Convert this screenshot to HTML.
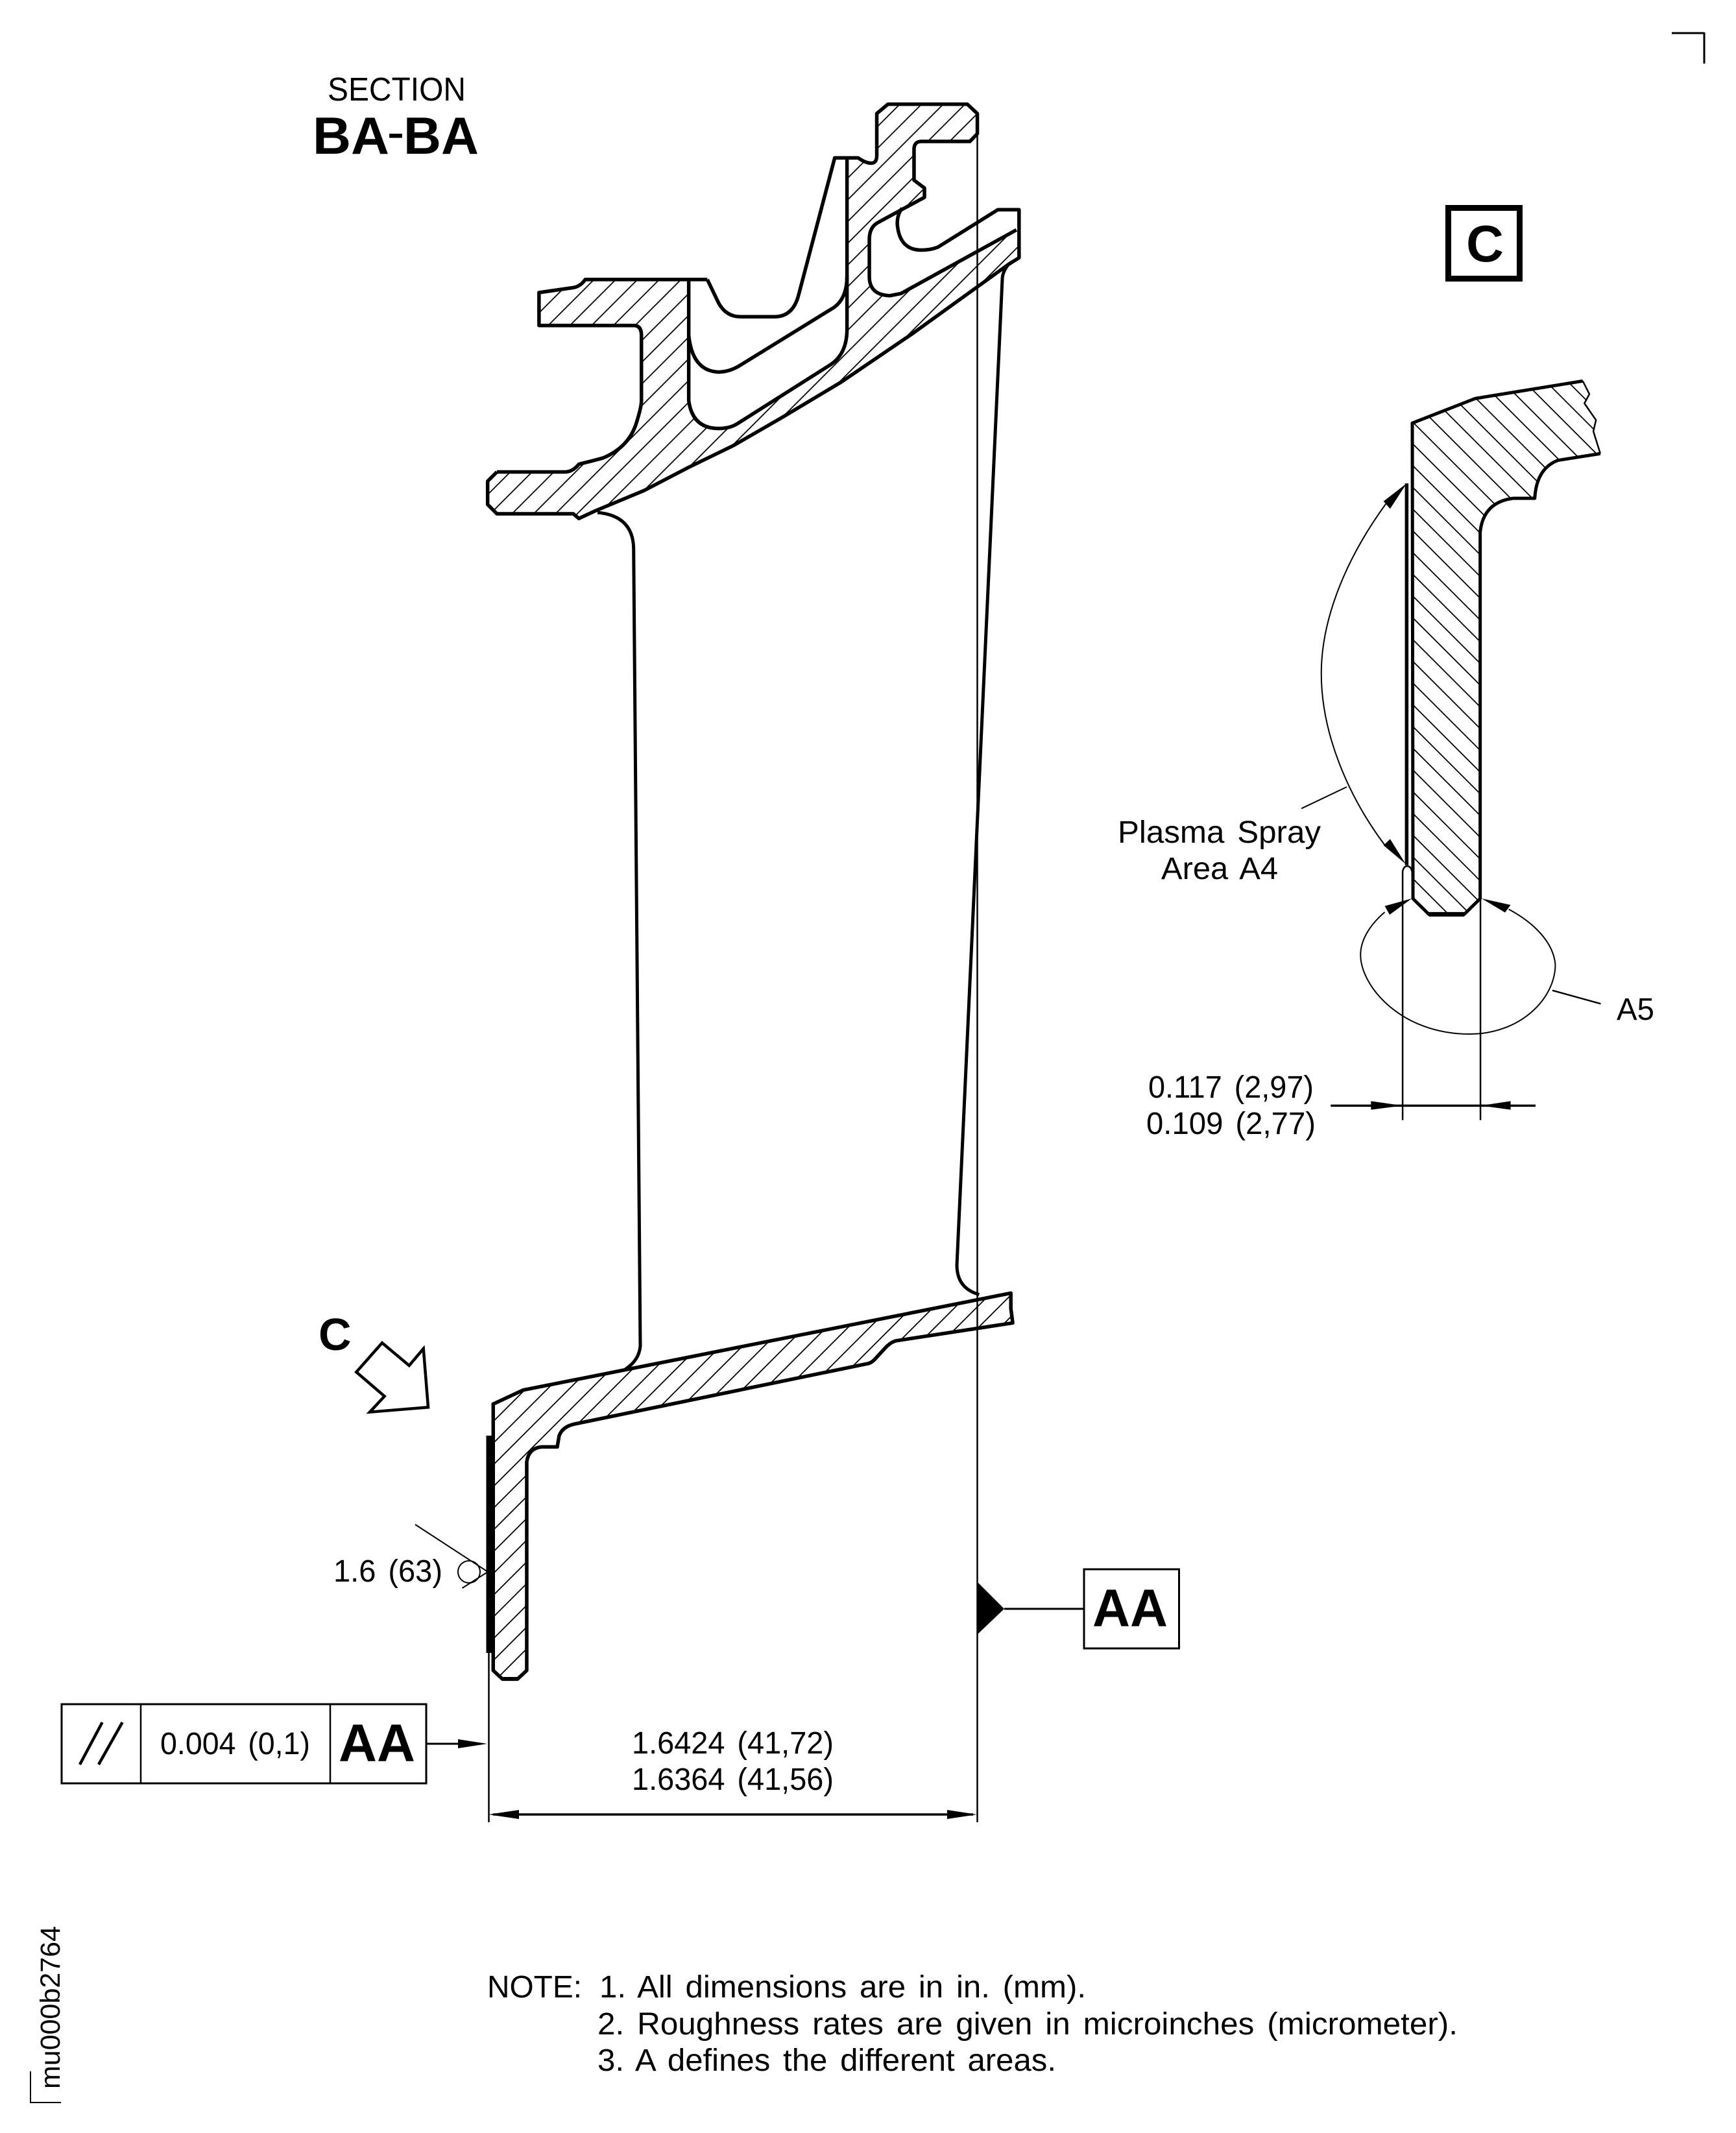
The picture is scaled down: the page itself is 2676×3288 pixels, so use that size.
<!DOCTYPE html>
<html><head><meta charset="utf-8"><style>
html,body{margin:0;padding:0;background:#fff}
svg{display:block}
text{font-family:"Liberation Sans",sans-serif;fill:#000;word-spacing:6px}
.b{font-weight:bold}
.n{fill:none;stroke:#000;stroke-linejoin:round;vector-effect:non-scaling-stroke}
</style></head><body>
<svg xmlns="http://www.w3.org/2000/svg" width="2676" height="3288" viewBox="0 0 2676 3288">
<defs>
<pattern id="h1" patternUnits="userSpaceOnUse" width="33.5" height="33.5" patternTransform="translate(6.7,0)"><path d="M0,33.5L33.5,0M-3,3L3,-3M30.5,36.5L36.5,30.5" stroke="#000" stroke-width="1.8" fill="none"/></pattern>
<pattern id="h2" patternUnits="userSpaceOnUse" width="33.5" height="33.5" patternTransform="translate(3.5,0)"><path d="M0,33.5L33.5,0M-3,3L3,-3M30.5,36.5L36.5,30.5" stroke="#000" stroke-width="1.8" fill="none"/></pattern>
<pattern id="h3" patternUnits="userSpaceOnUse" width="33.5" height="33.5" patternTransform="translate(19.5,0)"><path d="M0,0L33.5,33.5M-3,30.5L3,36.5M30.5,-3L36.5,3" stroke="#000" stroke-width="1.8" fill="none"/></pattern>
<clipPath id="c1"><path transform="translate(700,120) scale(0.57405,0.47832)" d="M115,1270 L300,1270 Q320,1268 335,1245 Q370,1235 400,1225 Q470,1190 490,1110 Q503,1060 503,1040 L503,830 Q503,800 485,798 L228,798 L228,692 L320,676 Q340,672 352,650 L630,650 L630,1040 Q640,1130 710,1130 Q740,1130 760,1115 L1010,925 Q1055,890 1055,810 L1055,265 L1085,258 Q1105,275 1120,275 Q1135,275 1135,250 L1135,115 L1165,85 L1378,85 L1405,115 L1405,180 L1385,205 L1255,205 Q1235,205 1235,230 L1235,330 L1263,355 L1263,385 L1140,465 Q1115,480 1115,520 L1115,640 Q1115,700 1170,702 L1200,695 L1510,490 L1517,580 L1490,600 L1230,825 L1040,980 L880,1095 L750,1185 L630,1255 L510,1330 L380,1395 L335,1420 L320,1405 L115,1405 L90,1375 L90,1300 Z"/></clipPath>
<clipPath id="c2"><path transform="translate(700,1950) scale(0.57405,0.44643)" d="M105,480 L185,432 L1495,97 L1495,150 L1500,200 L1185,262 Q1170,268 1155,290 L1130,325 Q1120,340 1105,342 L320,550 Q290,560 282,590 L277,628 L235,628 Q200,632 195,680 L195,1400 L170,1430 L130,1430 L105,1400 Z"/></clipPath>
<clipPath id="c3"><path transform="translate(1700,550) scale(0.5102,0.57405)" d="M935,178 L1125,112 L1450,65 L1470,100 L1455,125 L1490,170 L1482,200 L1503,260 L1375,278 Q1310,300 1305,380 L1240,380 Q1150,390 1140,470 L1140,1455 L1092,1497 L985,1497 L937,1455 Z"/></clipPath>
</defs>
<rect width="2676" height="3288" fill="#fff"/>

<!-- hatching -->
<rect width="2676" height="3288" fill="url(#h1)" clip-path="url(#c1)"/>
<rect width="2676" height="3288" fill="url(#h2)" clip-path="url(#c2)"/>
<rect width="2676" height="3288" fill="url(#h3)" clip-path="url(#c3)"/>

<!-- upper shroud -->
<g transform="translate(700,120) scale(0.57405,0.47832)">
<path class="n" stroke-width="5.5" d="M115,1270 L300,1270 Q320,1268 335,1245 Q370,1235 400,1225 Q470,1190 490,1110 Q503,1060 503,1040 L503,830 Q503,800 485,798 L228,798 L228,692 L320,676 Q340,672 352,650 L680,650"/>
<path class="n" stroke-width="5.5" d="M630,650 L630,1040 Q640,1130 710,1130 Q740,1130 760,1115 L1010,925 Q1055,890 1055,810 L1055,258"/>
<path class="n" stroke-width="5.5" d="M630,830 Q640,945 710,948 Q740,948 770,925 L1020,740 Q1055,710 1055,640"/>
<path class="n" stroke-width="5.5" d="M680,650 L710,725 Q730,770 770,770 L860,770 Q910,770 925,700 L1022,258 L1085,258 Q1105,275 1120,275 Q1135,275 1135,250 L1135,115 L1165,85 L1378,85 L1405,115 L1405,180 L1385,205 L1255,205 Q1235,205 1235,230 L1235,330 L1263,355 L1263,385 L1140,465 Q1115,480 1115,520 L1115,640 Q1115,700 1170,702 L1200,695 L1510,490"/>
<path class="n" stroke-width="5.5" d="M1203,420 Q1190,440 1190,470 Q1195,555 1255,555 Q1280,555 1300,545 L1460,425 L1517,425 L1517,580 L1490,600 L1230,825 L1040,980 L880,1095 L750,1185 L630,1255 L510,1330 L380,1395 L335,1420 L320,1405 L115,1405 L90,1375 L90,1300 L115,1270"/>
</g>

<!-- blade -->
<path d="M921,790 Q975.5,795 976.7,845 L987,2075 Q985,2097 964,2110.7" fill="none" stroke="#000" stroke-width="5"/>
<path d="M1555,407 Q1545,419 1545,431 L1475,1950 Q1475,1986 1509.4,1995.5" fill="none" stroke="#000" stroke-width="5"/>

<!-- lower shroud -->
<g transform="translate(700,1950) scale(0.57405,0.44643)">
<path class="n" stroke-width="5.5" d="M105,480 L185,432 L1495,97 L1495,150 L1500,200 L1185,262 Q1170,268 1155,290 L1130,325 Q1120,340 1105,342 L320,550 Q290,560 282,590 L277,628 L235,628 Q200,632 195,680 L195,1400 L170,1430 L130,1430 L105,1400 Z"/>
</g>
<rect x="749.5" y="2213" width="12.5" height="335" fill="#000"/>
<rect x="775" y="2585" width="22" height="6" fill="#000"/>

<!-- datum lines -->
<path d="M1506.5,175V2809M753.5,2548V2809" stroke="#000" stroke-width="2.5" fill="none"/>
<path d="M760,2797H1500" stroke="#000" stroke-width="3.5" fill="none"/>
<polygon points="753,2797 800,2790 800,2804" fill="#000"/>
<polygon points="1506,2797 1460,2790 1460,2804" fill="#000"/>

<!-- datum AA -->
<polygon points="1506,2438 1548,2480 1506,2520" fill="#000"/>
<path d="M1548,2480H1671" stroke="#000" stroke-width="3" fill="none"/>
<rect x="1671" y="2419" width="146.5" height="122" fill="none" stroke="#000" stroke-width="3"/>
<text class="b" x="1684" y="2507" font-size="82" textLength="116" lengthAdjust="spacingAndGlyphs">AA</text>

<!-- feature control frame -->
<rect x="95" y="2627" width="562" height="122" fill="none" stroke="#000" stroke-width="3"/>
<path d="M217,2627V2749M509,2627V2749" stroke="#000" stroke-width="2.5" fill="none"/>
<path d="M123,2720L157.6,2655M152,2720L188.6,2655" stroke="#000" stroke-width="4.5" fill="none"/>
<text x="247" y="2704" font-size="48" textLength="231" lengthAdjust="spacingAndGlyphs">0.004 (0,1)</text>
<text class="b" x="522" y="2715" font-size="82" textLength="118" lengthAdjust="spacingAndGlyphs">AA</text>
<path d="M657,2688H710" stroke="#000" stroke-width="3" fill="none"/>
<polygon points="751,2688 706,2681 706,2695" fill="#000"/>

<!-- dimension text -->
<text x="974" y="2703" font-size="48" textLength="311" lengthAdjust="spacingAndGlyphs">1.6424 (41,72)</text>
<text x="974" y="2759" font-size="48" textLength="311" lengthAdjust="spacingAndGlyphs">1.6364 (41,56)</text>

<!-- roughness -->
<text x="514" y="2438" font-size="48" textLength="168" lengthAdjust="spacingAndGlyphs">1.6 (63)</text>
<circle cx="723" cy="2423" r="17" fill="none" stroke="#000" stroke-width="2"/>
<path d="M640,2350L752,2423L712.6,2448" fill="none" stroke="#000" stroke-width="2"/>

<!-- section title -->
<text x="505" y="155" font-size="51" textLength="213" lengthAdjust="spacingAndGlyphs">SECTION</text>
<text class="b" x="482" y="237" font-size="81" textLength="118" lengthAdjust="spacingAndGlyphs">BA</text>
<text x="596.5" y="231" font-size="81">-</text>
<text class="b" x="622" y="237" font-size="81" textLength="116" lengthAdjust="spacingAndGlyphs">BA</text>

<!-- view C arrow -->
<text class="b" x="491" y="2081" font-size="70">C</text>
<polygon points="589,2070 630.7,2105 652.7,2079 660,2169.3 570,2176.7 592.7,2152.3 549.3,2115" fill="none" stroke="#000" stroke-width="4.5" stroke-linejoin="miter"/>

<!-- C box -->
<rect x="2232.5" y="320.5" width="110" height="109" fill="none" stroke="#000" stroke-width="9"/>
<text class="b" x="2289" y="403" font-size="80" text-anchor="middle">C</text>

<!-- detail C -->
<g transform="translate(1700,550) scale(0.5102,0.57405)">
<path class="n" stroke-width="5" d="M1450,65 L1125,112 L935,178 L937,1455 L985,1497 L1092,1497 L1140,1455 L1140,470 Q1150,390 1240,380 L1305,380 Q1310,300 1375,278 L1503,260"/>
<path class="n" stroke-width="2.5" d="M1450,65 L1470,100 L1455,125 L1490,170 L1482,200 L1503,260"/>
<path class="n" stroke-width="7" d="M985,1497 L1092,1497"/>
<path class="n" stroke-width="5.5" d="M918,340 L918,1365"/>
<path class="n" stroke-width="2" d="M855,395 C720,560 660,720 660,850 C660,1010 740,1180 855,1315"/>
<path class="n" stroke-width="2" d="M600,1213 L737,1155"/>
<polygon points="918,340 848,388 868,408" fill="#000"/>
<polygon points="915,1362 848,1312 868,1295" fill="#000"/>
</g>
<g transform="translate(1700,1280) scale(0.57405,0.33333)">
<path class="n" stroke-width="2.5" d="M805,1340 L805,190 Q808,165 818,165 Q828,168 830,190"/>
<path class="n" stroke-width="2.5" d="M1014,315 L1014,1340"/>
<path class="n" stroke-width="2" d="M757,378 C715,440 692,510 692,575 C692,720 800,942 985,942 C1120,942 1215,780 1215,620 C1210,520 1160,430 1090,365"/>
<path class="n" stroke-width="2.5" d="M1207,740 L1337,802"/>
<path class="n" stroke-width="3.5" d="M612,1273 L1162,1273"/>
<polygon points="830,315 757,350 770,390" fill="#000"/>
<polygon points="1017,315 1095,345 1080,380" fill="#000"/>
<polygon points="805,1273 720,1252 720,1292" fill="#000"/>
<polygon points="1014,1273 1095,1252 1095,1292" fill="#000"/>
</g>

<text x="1723" y="1299" font-size="48" textLength="313" lengthAdjust="spacingAndGlyphs">Plasma Spray</text>
<text x="1790" y="1355" font-size="48" textLength="180" lengthAdjust="spacingAndGlyphs">Area A4</text>
<text x="2492" y="1572" font-size="48" textLength="58" lengthAdjust="spacingAndGlyphs">A5</text>
<text x="1770" y="1692" font-size="48" textLength="255" lengthAdjust="spacingAndGlyphs">0.117 (2,97)</text>
<text x="1767" y="1748" font-size="48" textLength="261" lengthAdjust="spacingAndGlyphs">0.109 (2,77)</text>

<!-- notes -->
<text x="751" y="3079" font-size="48" textLength="146" lengthAdjust="spacingAndGlyphs">NOTE:</text>
<text x="924" y="3079" font-size="48" textLength="750" lengthAdjust="spacingAndGlyphs">1. All dimensions are in in. (mm).</text>
<text x="921" y="3136" font-size="48" textLength="1326" lengthAdjust="spacingAndGlyphs">2. Roughness rates are given in microinches (micrometer).</text>
<text x="921" y="3192" font-size="48" textLength="707" lengthAdjust="spacingAndGlyphs">3. A defines the different areas.</text>

<!-- corners and code -->
<path d="M2577,51H2627M2627,50V98" stroke="#000" stroke-width="3" fill="none"/>
<path d="M47,3193V3241H94" stroke="#000" stroke-width="2" fill="none"/>
<text transform="translate(92,3220) rotate(-90)" font-size="43" textLength="251" lengthAdjust="spacingAndGlyphs">mu000b2764</text>
</svg>
</body></html>
